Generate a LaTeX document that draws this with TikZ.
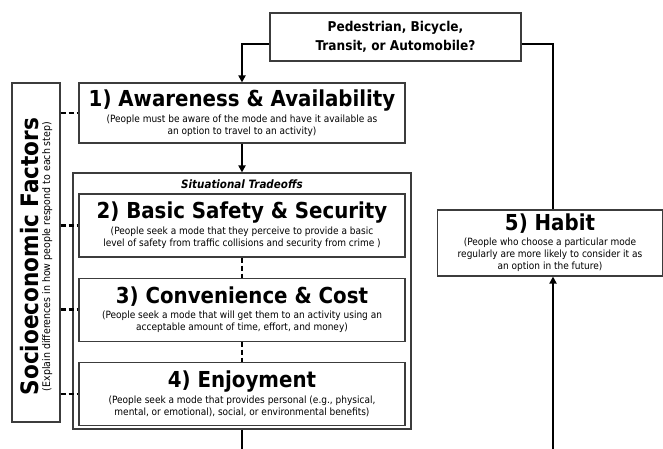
\documentclass[tikz,border=0pt]{standalone}
\usepackage{fontspec}
\setmainfont{DejaVu Sans Condensed}
\usetikzlibrary{positioning,arrows.meta}

\definecolor{boxline}{RGB}{60,60,60}

\newcommand{\steptext}[3]{{\fontsize{22}{24}\selectfont\bfseries #1}\\[3pt]#2\\#3}

\tikzset{
  stepbox/.style={draw=boxline, line width=1.1pt, fill=white, minimum width=326pt,
    minimum height=63pt, align=center, inner sep=0pt, font=\fontsize{10}{12}\selectfont},
  flow/.style={line width=2.4pt, -{Triangle[length=7pt,width=7pt]}},
  link/.style={line width=2.4pt},
  tie/.style={line width=2.4pt, dash pattern=on 5pt off 3pt},
}

\begin{document}
\begin{tikzpicture}[x=1pt,y=-1pt]
\useasboundingbox (0,0) rectangle (663,449);

\node[draw=boxline, line width=1.1pt, minimum width=251pt, minimum height=48pt, align=center,
  inner sep=0pt, font=\fontsize{13.5}{19}\selectfont\bfseries] (mode) at (395.5,37)
  {Pedestrian, Bicycle,\\Transit, or Automobile?};

\node[stepbox, minimum height=60pt] (aware) at (242,113)
  {\steptext{1) Awareness \& Availability}{(People must be aware of the mode and have it available as}{an option to travel to an activity)}};

\node[draw=boxline, line width=1.1pt, minimum width=338pt, minimum height=256pt] (trade) at (242,301) {};
\node[font=\fontsize{11.5}{12}\selectfont\bfseries\itshape] (tradelabel) at (242,184) {Situational Tradeoffs};

\node[stepbox] (safety) at (242,225.5)
  {\steptext{2) Basic Safety \& Security}{(People seek a mode that they perceive to provide a basic}{level of safety from traffic collisions and security from crime )}};
\node[stepbox, below=20pt of safety] (cost)
  {\steptext{3) Convenience \& Cost}{(People seek a mode that will get them to an activity using an}{acceptable amount of time, effort, and money)}};
\node[stepbox, below=20pt of cost] (enjoy)
  {\steptext{4) Enjoyment}{(People seek a mode that provides personal (e.g., physical,}{mental, or emotional), social, or environmental benefits)}};

\node[stepbox, minimum width=225pt, minimum height=66pt] (habit) at (550,243)
  {{\fontsize{22}{24}\selectfont\bfseries 5) Habit}\\[3pt](People who choose a particular mode\\regularly are more likely to consider it as\\an option in the future)};

\node[draw=boxline, line width=1.1pt, minimum width=48pt, minimum height=339pt, inner sep=0pt] (socio) at (36,252.5) {};
\node[rotate=90, align=center, font=\fontsize{10.5}{12}\selectfont] (sociotext) at ([yshift=-4pt]socio.center)
  {{\fontsize{24}{25}\selectfont\bfseries Socioeconomic Factors}\\(Explain differences in how people respond to each step)};

\coordinate (loopL) at (242,449);
\coordinate (loopR) at (553,449);

\draw[flow] ([yshift=-7pt]mode.west) -| (aware.north);
\draw[link] ([yshift=-7pt]mode.east) -| (habit.north -| loopR);
\draw[flow] (aware.south) -- (trade.north);
\draw[link] (trade.south) -- (loopL);
\draw[flow] (loopR) -- (habit.south -| loopR);

\draw[tie] (safety.south) -- (cost.north);
\draw[tie] (cost.south) -- (enjoy.north);
\foreach \step in {aware,safety,cost,enjoy}
  \draw[tie] (\step.west -| socio.east) -- (\step.west);
\end{tikzpicture}
\end{document}
